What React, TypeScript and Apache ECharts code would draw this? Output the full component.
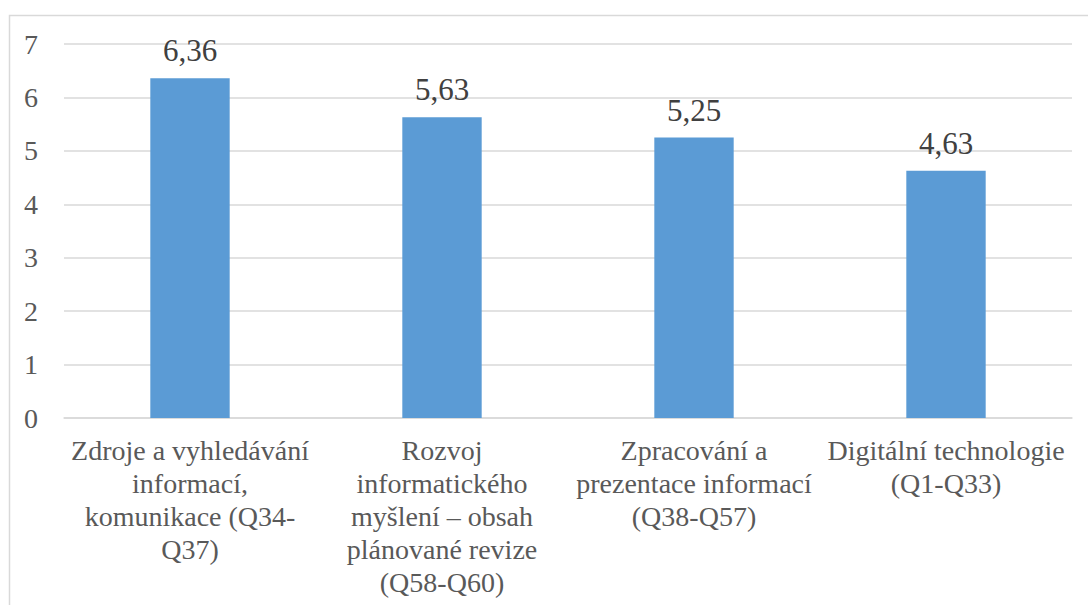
import React, { useEffect, useRef } from "react";
import * as echarts from "echarts";

const categories: string[] = [
  "Zdroje a vyhledávání\ninformací,\nkomunikace (Q34-\nQ37)",
  "Rozvoj\ninformatického\nmyšlení – obsah\nplánované revize\n(Q58-Q60)",
  "Zpracování a\nprezentace informací\n(Q38-Q57)",
  "Digitální technologie\n(Q1-Q33)",
];
const values: number[] = [6.36, 5.63, 5.25, 4.63];
const yTicks: number[] = [0, 1, 2, 3, 4, 5, 6, 7];

const FONT = "'Liberation Serif', 'Times New Roman', serif";

export default function App() {
  const ref = useRef<HTMLDivElement>(null);
  useEffect(() => {
    if (!ref.current) return;
    const chart = echarts.init(ref.current, undefined, { renderer: "svg" });
    chart.setOption({
      animation: false,
      backgroundColor: "#ffffff",
      graphic: [
        {
          type: "rect",
          shape: { x: 9.5, y: 15.5, width: 1200, height: 700 },
          style: { fill: "none", stroke: "#d9d9d9", lineWidth: 1.5 },
          silent: true,
        },
      ],
      grid: { left: 64, right: 16, top: 44, bottom: 187 },
      xAxis: {
        type: "category",
        data: categories,
        axisTick: { show: false },
        axisLine: { show: true, lineStyle: { color: "#d9d9d9", width: 1.5 } },
        axisLabel: {
          interval: 0,
          color: "#595959",
          fontFamily: FONT,
          fontSize: 28,
          lineHeight: 33,
          margin: 16,
          align: "center",
        },
      },
      yAxis: {
        type: "value",
        min: yTicks[0],
        max: yTicks[yTicks.length - 1],
        interval: 1,
        axisLine: { show: false },
        axisTick: { show: false },
        splitLine: { lineStyle: { color: "#d9d9d9", width: 1.5 } },
        axisLabel: {
          color: "#595959",
          fontFamily: FONT,
          fontSize: 28,
          margin: 26,
        },
      },
      series: [
        {
          type: "bar",
          data: values,
          barWidth: "31.5%",
          itemStyle: { color: "#5b9bd5" },
          label: {
            show: true,
            position: "top",
            distance: 12,
            color: "#404040",
            fontFamily: FONT,
            fontSize: 31,
            formatter: (p: any) => String(p.value.toFixed(2)).replace(".", ","),
          },
        },
      ],
    });
    return () => chart.dispose();
  }, []);
  return (
    <div
      ref={ref}
      style={{ position: "fixed", left: 0, top: 0, width: 1088, height: 605 }}
    />
  );
}
